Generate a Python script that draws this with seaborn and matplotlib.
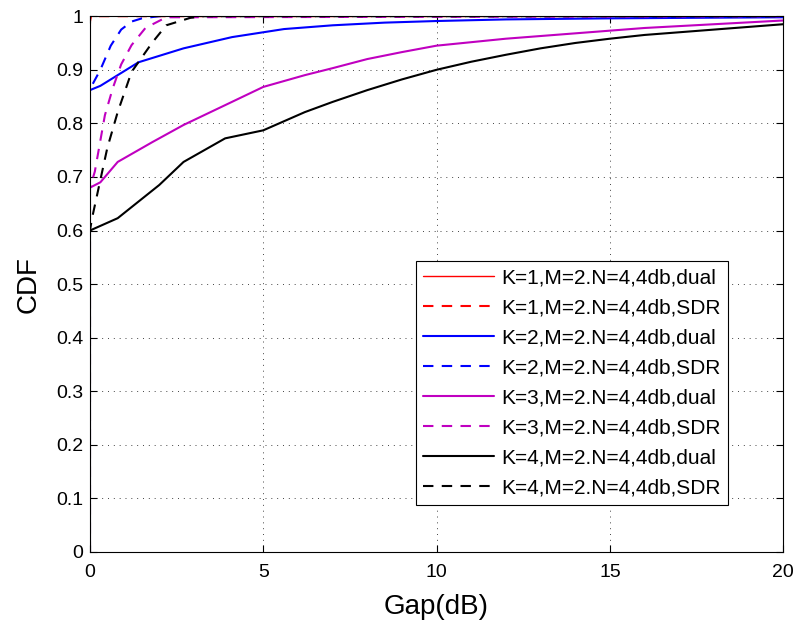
import numpy as np
import pandas as pd
import matplotlib
matplotlib.use("Agg")
import matplotlib.pyplot as plt
import seaborn as sns

# ---- data ----
labels = ["K=1,M=2.N=4,4db,dual", "K=1,M=2.N=4,4db,SDR",
          "K=2,M=2.N=4,4db,dual", "K=2,M=2.N=4,4db,SDR",
          "K=3,M=2.N=4,4db,dual", "K=3,M=2.N=4,4db,SDR",
          "K=4,M=2.N=4,4db,dual", "K=4,M=2.N=4,4db,SDR"]

k1_dual_x = [0, 0, 0.02, 20]
k1_dual_y = [0, 0.99, 1.0, 1.0]
k1_sdr_x = [0, 0, 0.03, 20]
k1_sdr_y = [0, 0.99, 1.0, 1.0]

k2_dual_x = [0, 0, 0.3, 0.8, 1.4, 2.0, 2.7, 3.5, 4.1, 5.0, 5.6, 7, 8.5, 10, 12, 15, 20]
k2_dual_y = [0, 0.862, 0.87, 0.89, 0.914, 0.926, 0.94, 0.952, 0.961, 0.97, 0.976,
             0.983, 0.988, 0.991, 0.994, 0.996, 0.998]
k2_sdr_x = [0, 0, 0.05, 0.3, 0.6, 0.9, 1.2, 1.5, 2.0, 20]
k2_sdr_y = [0, 0.86, 0.87, 0.9, 0.945, 0.975, 0.99, 0.996, 1.0, 1.0]

k3_dual_x = [0, 0, 0.3, 0.8, 1.8, 2.7, 3.9, 5.0, 6.2, 7, 8, 9, 10, 12, 14, 16, 18, 20]
k3_dual_y = [0, 0.68, 0.69, 0.728, 0.765, 0.797, 0.834, 0.868, 0.89, 0.903, 0.92,
             0.933, 0.945, 0.958, 0.968, 0.978, 0.985, 0.992]
k3_sdr_x = [0, 0, 0.14, 0.43, 0.66, 0.9, 1.2, 1.6, 2.2, 20]
k3_sdr_y = [0, 0.68, 0.71, 0.815, 0.866, 0.91, 0.946, 0.978, 0.998, 1.0]

k4_dual_x = [0, 0, 0.8, 2.0, 2.7, 3.9, 5.0, 6.2, 7, 8, 9, 10, 11, 12, 13, 14, 15,
             16, 17, 18, 20]
k4_dual_y = [0, 0.6, 0.623, 0.685, 0.728, 0.772, 0.787, 0.821, 0.84, 0.862, 0.882,
             0.9, 0.915, 0.928, 0.94, 0.95, 0.958, 0.965, 0.97, 0.975, 0.985]
k4_sdr_x = [0, 0, 0.06, 0.5, 0.8, 1.2, 1.8, 2.2, 2.9, 3.3, 20]
k4_sdr_y = [0, 0.6, 0.623, 0.754, 0.821, 0.896, 0.951, 0.983, 0.997, 1.0, 1.0]

series_x = [k1_dual_x, k1_sdr_x, k2_dual_x, k2_sdr_x, k3_dual_x, k3_sdr_x, k4_dual_x, k4_sdr_x]
series_y = [k1_dual_y, k1_sdr_y, k2_dual_y, k2_sdr_y, k3_dual_y, k3_sdr_y, k4_dual_y, k4_sdr_y]

x_ticks = [0, 5, 10, 15, 20]
y_ticks = [0, 0.1, 0.2, 0.3, 0.4, 0.5, 0.6, 0.7, 0.8, 0.9, 1]
y_ticklabels = ["0", "0.1", "0.2", "0.3", "0.4", "0.5", "0.6", "0.7", "0.8", "0.9", "1"]

# ---- styles ----
colors = ["#ff0000", "#ff0000", "#0000ff", "#0000ff", "#c000c0", "#c000c0", "#000000", "#000000"]
dashed = [False, True, False, True, False, True, False, True]
widths = [1.0, 1.5, 1.5, 1.5, 1.5, 1.5, 1.5, 1.5]

sns.set_style("white")
plt.rcParams['font.family'] = ['Liberation Sans', 'DejaVu Sans']

fig = plt.figure(figsize=(7.99, 6.23), dpi=100)
ax = fig.add_axes([0.1126, 0.114, 0.8676, 0.860])

for lab, xs, ys, c, d, w in zip(labels, series_x, series_y, colors, dashed, widths):
    df = pd.DataFrame({"x": xs, "y": ys})
    sns.lineplot(data=df, x="x", y="y", ax=ax, color=c, lw=w,
                 estimator=None, sort=False, label=lab)
    if d:
        ax.lines[-1].set_dashes((5, 4))

ax.set_xlim(0, 20)
ax.set_ylim(0, 1)
ax.set_xticks(x_ticks)
ax.set_yticks(y_ticks)
ax.set_yticklabels(y_ticklabels)
ax.tick_params(direction="in", length=5, width=0.8, labelsize=14,
               top=True, right=True, bottom=True, left=True, colors="k")
ax.tick_params(axis="x", pad=9)
ax.tick_params(axis="y", pad=5)
ax.grid(True, linestyle=(0, (1, 5)), color="#444444", lw=0.7)
for s in ax.spines.values():
    s.set_visible(True)
    s.set_color("k")
    s.set_linewidth(0.8)

ax.set_xlabel("Gap(dB)", fontsize=20, labelpad=9, color="k")
ax.set_ylabel("CDF", fontsize=20, labelpad=10, color="k")

leg = ax.legend(loc="lower right", bbox_to_anchor=(0.921, 0.0877), fontsize=15,
                frameon=True, fancybox=False, edgecolor="k", framealpha=1,
                handlelength=3.4, handletextpad=0.35, labelspacing=0.53,
                borderpad=0.35, borderaxespad=0)
for t in leg.get_texts():
    t.set_color("k")
leg.get_frame().set_linewidth(0.8)

fig.savefig("out.png", dpi=100)
